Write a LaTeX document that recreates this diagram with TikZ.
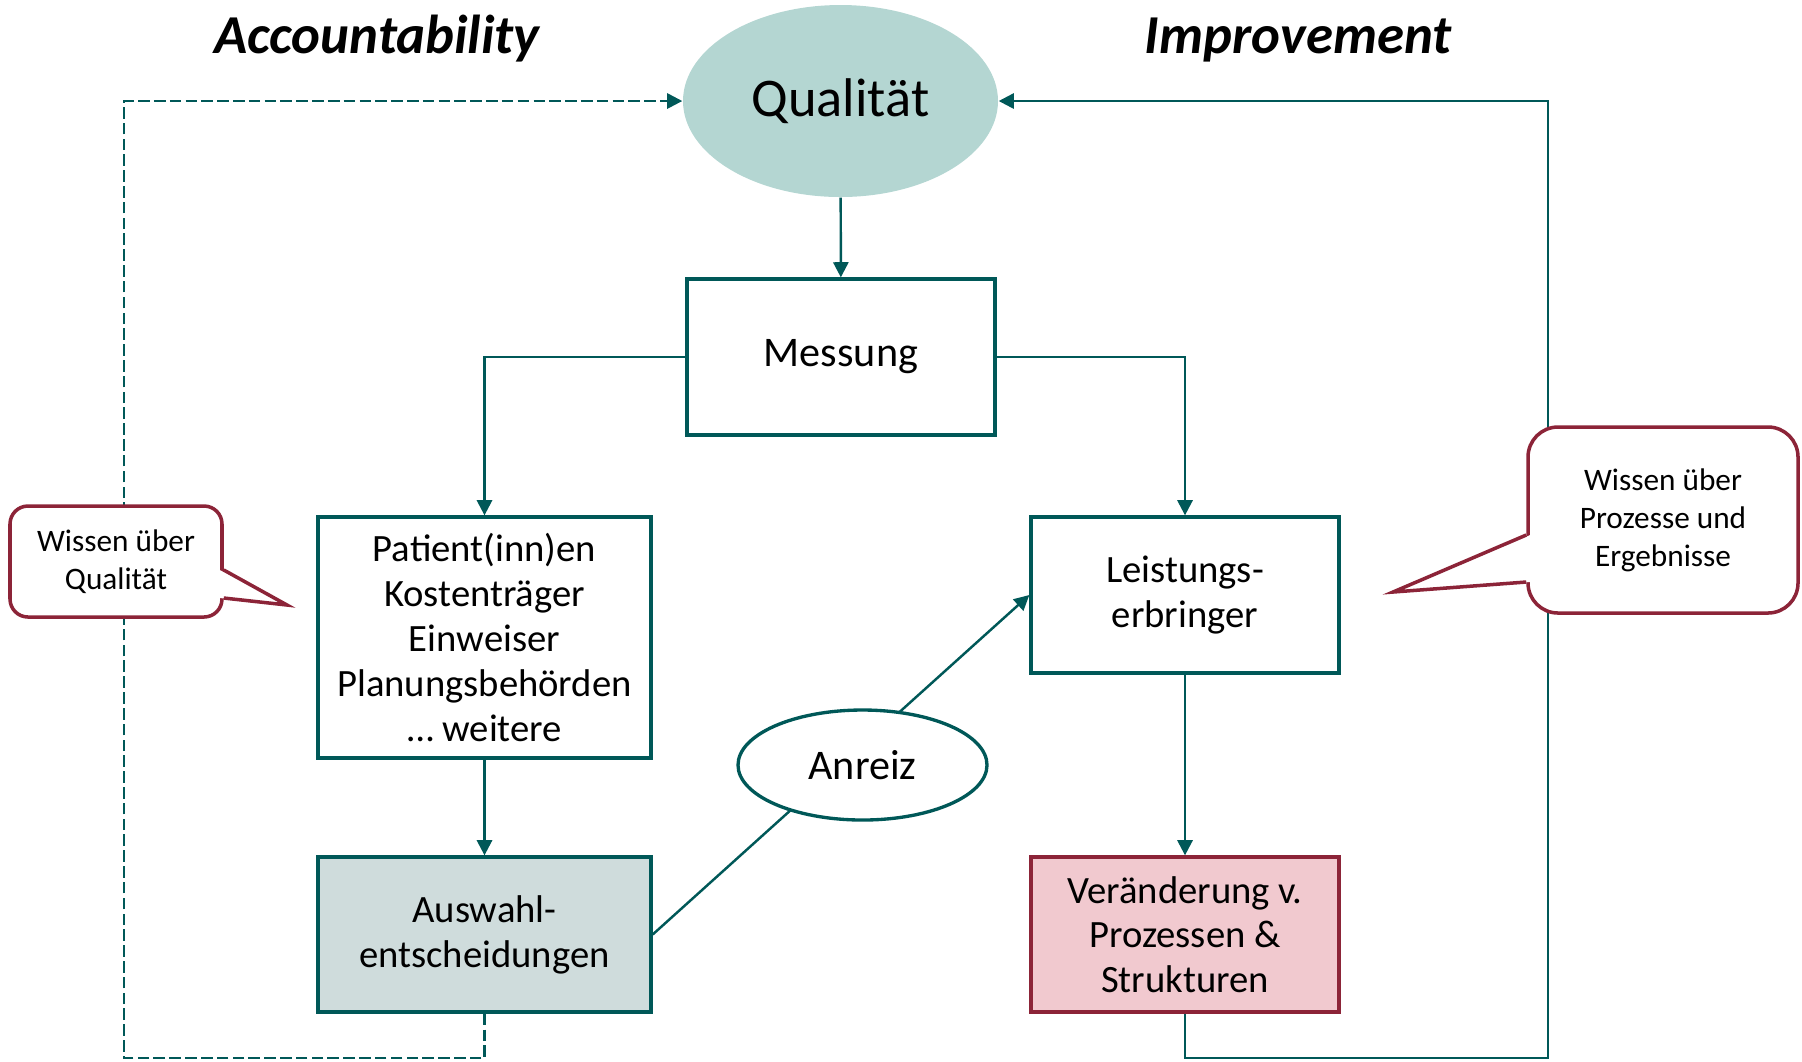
\documentclass[tikz,border=0pt]{standalone}
\usepackage{fontspec}
\setmainfont{Carlito}
\usepackage{xcolor}
\usetikzlibrary{positioning,shapes.geometric,arrows.meta}

\definecolor{tealline}{RGB}{0,88,88}
\definecolor{qualfill}{RGB}{180,214,210}
\definecolor{choicefill}{RGB}{207,220,220}
\definecolor{changefill}{RGB}{241,201,207}
\definecolor{wine}{RGB}{140,36,56}

\begin{document}
\begin{tikzpicture}[
    every node/.style={font=\fontsize{11}{12.75}\selectfont},
    box/.style={rectangle,draw=tealline,line width=0.95pt,minimum width=3.08cm,minimum height=1.56cm,align=center,inner sep=0pt},
    widebox/.style={box,minimum width=3.33cm},
    choice/.style={widebox,fill=choicefill},
    change/.style={box,draw=wine,fill=changefill},
    flow/.style={draw=tealline,line width=0.7pt,-{Triangle[length=4.3pt,width=4.3pt]}},
    dashflow/.style={flow,dash pattern=on 3.3pt off 1.2pt},
    callout/.style={draw=wine,line width=1pt,fill=white,align=center,inner sep=0pt,font=\fontsize{8.9}{10.8}\selectfont},
    headline/.style={font=\fontsize{15.6}{18}\selectfont\bfseries\itshape}
]
\useasboundingbox (0,0) rectangle (18.02,-10.61);

% Titles
\node[headline] (acc) at (3.77,-0.385)  {Accountability};
\node[headline] (imp) at (12.98,-0.405) {Improvement};

% Main nodes (absolute positions)
\node[ellipse,fill=qualfill,minimum width=3.15cm,minimum height=1.92cm,inner sep=0pt,font=\fontsize{15.5}{18}\selectfont] (qual) at (8.405,-1.01) {Qualität};
\node[box,font=\fontsize{12}{12.75}\selectfont] (mess) at (8.41,-3.57) {Messung};
\node[widebox,minimum height=2.41cm] (patient) at (4.845,-6.375) {Patient(inn)en\\Kostenträger\\Einweiser\\Planungsbehörden\\… weitere};
\node[choice,minimum height=1.55cm] (auswahl) at (4.845,-9.345) {Auswahl-\\entscheidungen};
\node[box]        (leist)   at (11.85,-5.95)  {Leistungs-\\erbringer};
\node[change,minimum height=1.55cm] (verand) at (11.85,-9.345) {Veränderung v.\\Prozessen \&\\Strukturen};

% Corners of the two feedback loops
\coordinate (dl) at (1.24,-10.58);
\coordinate (dr) at (15.48,-10.58);

% Connections
\draw[flow] (qual) -- (mess);
\draw[flow] (mess.west) -| (patient.north);
\draw[flow] (mess.east) -| (leist.north);
\draw[flow] (patient) -- (auswahl);
\draw[flow] (leist) -- (verand);
\draw[flow] (auswahl.east) -- (leist.west);

% Feedback loops back to quality
\draw[dashflow] (auswahl.south) |- (dl) |- (qual.west);
\draw[flow] (verand.south) |- (dr) |- (qual.east);

% Incentive sits on the line
\node[ellipse,draw=tealline,line width=0.95pt,fill=white,minimum width=2.49cm,minimum height=1.10cm,inner sep=0pt,font=\fontsize{12}{12.75}\selectfont] (anreiz) at (8.625,-7.65) {Anreiz};

% Speech bubbles
\node[callout,rounded corners=0.18cm,minimum width=2.12cm,minimum height=1.11cm] (wq) at (1.16,-5.615) {Wissen über\\Qualität};
\coordinate (wqtip) at (2.87,-6.05);
\fill[white] ([xshift=-0.04cm]wq.east |- 0,-5.70) -- (wqtip) -- ([xshift=-0.04cm]wq.east |- 0,-5.98) -- cycle;
\draw[wine,line width=1pt] (wq.east |- 0,-5.70) -- (wqtip) -- (wq.east |- 0,-5.98);

\node[callout,rounded corners=0.3cm,minimum width=2.70cm,minimum height=1.86cm] (wp) at (16.63,-5.20) {Wissen über\\Prozesse und\\Ergebnisse};
\coordinate (wptip) at (13.93,-5.92);
\fill[white] ([xshift=0.04cm]wp.west |- 0,-5.35) -- (wptip) -- ([xshift=0.04cm]wp.west |- 0,-5.82) -- cycle;
\draw[wine,line width=1pt] (wp.west |- 0,-5.35) -- (wptip) -- (wp.west |- 0,-5.82);

\end{tikzpicture}
\end{document}
